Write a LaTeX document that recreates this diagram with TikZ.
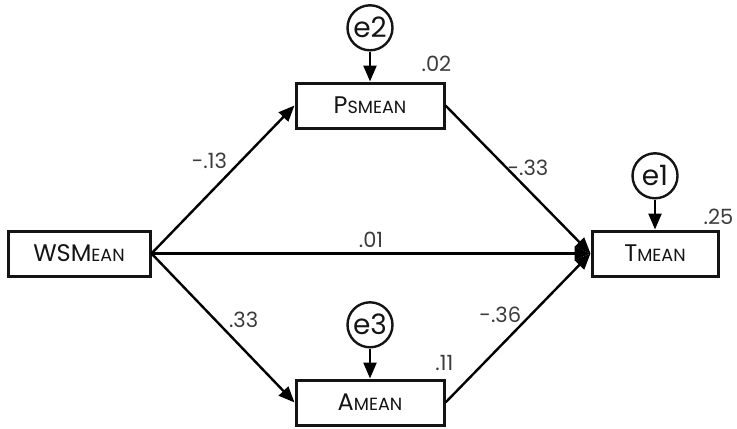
\documentclass[tikz,border=0pt]{standalone}
\usepackage{fontspec}
\setmainfont{Poppins}
\usepackage{xcolor}
\definecolor{Ink}   {RGB}{20,  20,  20}
\definecolor{DkGray}{RGB}{60,  60,  60}
\usetikzlibrary{arrows.meta, positioning}

\newcommand{\vname}[2]{#1{\fontsize{8.8}{10}\selectfont #2}}

\begin{document}
\begin{tikzpicture}[x=0.5pt, y=-0.5pt, >={Triangle[length=8pt, width=6.5pt]},
  line width=1.2pt, node distance=15pt,
  var/.style={draw=Ink, line width=1.5pt, minimum height=22.5pt, inner sep=0pt,
              font=\fontsize{12}{14}\selectfont\color{Ink}},
  err/.style={draw=Ink, circle, line width=1.2pt, minimum size=22.5pt, inner sep=0pt,
              font=\fontsize{14}{16}\selectfont\color{Ink}},
  coef/.style={font=\fontsize{10.5}{12}\selectfont\color{DkGray}, inner sep=1pt}
]
  \useasboundingbox (0,0) rectangle (737,428);

  %% Observed variables
  \node[var, minimum width=71pt] (WS) at (79,253.5)  {\vname{WSM}{EAN}};
  \node[var, minimum width=74pt] (PS) at (370,105.5) {\vname{P}{SMEAN}};
  \node[var, minimum width=74pt] (AM) at (370,402.5) {\vname{A}{MEAN}};
  \node[var, minimum width=63pt] (TM) at (655,253.5) {\vname{T}{MEAN}};

  %% Error terms
  \node[err, above=of PS] (e2) {e2};
  \node[err, above=of TM] (e1) {e1};
  \node[err, above=of AM] (e3) {e3};
  \draw[->] (e2) -- (PS);
  \draw[->] (e1) -- (TM);
  \draw[->] (e3) -- (AM);

  %% Squared multiple correlations
  \node[coef, anchor=south east] (r2PS) at ([xshift=4.5pt, yshift=3.5pt]PS.north east) {.02};
  \node[coef, anchor=south east] (r2TM) at ([xshift=8.5pt, yshift=1pt]TM.north east) {.25};
  \node[coef, anchor=south east] (r2AM) at ([xshift=5.5pt, yshift=2.5pt]AM.north east) {.11};

  %% Paths
  \draw[->] (WS.east) -- node[coef, pos=0.55, anchor=south east]{-.13} (PS.west);
  \draw[->] (WS.east) -- node[coef, pos=0.52, anchor=south west]{.33} (AM.west);
  \draw[->] (WS.east) -- node[coef, above=1.5pt]{.01} (TM.west);
  \draw[->] (PS.east) -- node[coef, pos=0.42, anchor=west, inner sep=0pt]{-.33} (TM.west);
  \draw[->] (AM.east) -- node[coef, pos=0.53, anchor=south east, inner sep=0pt]{-.36} (TM.west);
\end{tikzpicture}
\end{document}
